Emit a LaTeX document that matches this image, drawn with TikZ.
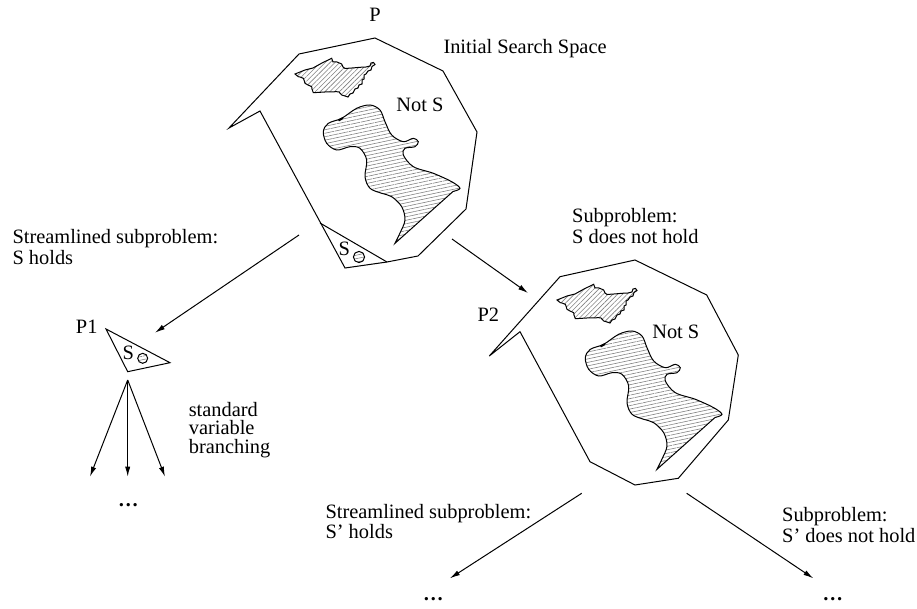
\documentclass[tikz,border=0pt]{standalone}
\usepackage{fontspec}
\setmainfont{Liberation Serif}
\usepackage{tikz}
\usetikzlibrary{arrows.meta, patterns.meta}
\NewDocumentCommand{\nogood}{}{%
  \draw[hatch=45] (295,74) -- (300,72) -- (305,70) -- (313,68) -- (322,63) -- (331.7,58.3)
    -- (333,62) -- (337,62) -- (341.7,64) -- (343,67) -- (345,68.5) -- (352,68) -- (360,67.3)
    -- (366,67) -- (370,66) -- (371,63) -- (373.5,62.5) -- (375,64.5) -- (372,66.5) -- (371,70)
    -- (368,71) -- (366,74) -- (364,75) -- (364,79) -- (362,80) -- (362,84) -- (359,85)
    -- (358,88) -- (355,89) -- (353,93) -- (350,94) -- (348,97) -- (345,96) -- (341.7,95)
    -- (339,92) -- (336.7,91.7) -- (325,92) -- (313.3,92.7) -- (312,89) -- (311.7,86.7)
    -- (308,85) -- (305,83.3) -- (304,80) -- (303.3,78.3) -- (300,77) -- (298.3,76.7) -- cycle;
  \draw[hatch=12] plot[smooth, tension=0.55] coordinates {(395,243.3) (400,233) (405,220)
    (401.7,206.7) (391.7,196.7) (381.7,193.3) (370,188.3) (365,176.7) (366.7,160) (360,148.3)
    (350,146.7) (336.7,150) (326.7,143.3) (323.3,131.7) (328.3,123.3) (341.7,118.3)
    (356.7,108.3) (370,105) (380,110) (385,121.7) (391.7,135) (403.3,141.7) (413.3,138.3)
    (418.3,141.7) (415,146.7) (405,148.3) (403.3,155) (413.3,166.7) (433.3,173.3)
    (451.7,181.7) (460,188.3) (453,191.5)} -- cycle;
  \draw[line width=1pt] (338.5,120.5) -- (343,118);
}

\begin{document}
\begin{tikzpicture}[x=0.5pt, y=-0.5pt, line width=0.5pt,
    >={Latex[length=5pt, width=2.6pt]},
    every node/.style={font=\fontsize{10.2}{10.4}\selectfont, inner sep=0pt},
    label/.style={anchor=west, align=left},
    more/.style={font=\fontsize{10.2}{10.4}\selectfont\bfseries},
    hatch/.style={pattern={Lines[angle=#1, distance=1.7pt, line width=0.3pt]},
                  pattern color=gray},
    ball/.style={draw, circle, minimum size=5.6pt, hatch=12}]
    \useasboundingbox (0,0) rectangle (917,609);

    % P
    \draw (375,38) -- (443,71) -- (477,132) -- (466,209) -- (418,256) -- (387,262)
      -- (345,268) -- (260,111) -- (229,128) -- (299,54) -- cycle;
    \draw (320,223) -- (387,262);
    \nogood
    \node (p) at (375,15) {P};
    \node[label] (init) at (443,48.3) {Initial Search Space};
    \node (notS) at (420,105) {Not S};
    \node (pS) at (344.3,249.3) {S};
    \node[ball] (pball) at (359,257) {};

    % P2
    \draw (635,260) -- (706.7,295) -- (738.3,355) -- (728.3,420) -- (678.3,478.3)
      -- (635,485) -- (590,461.7) -- (520,331.7) -- (489.3,356) -- (560,276.7) -- cycle;
    \begin{scope}[shift={(262,226)}]
      \nogood
    \end{scope}
    \node (p2) at (488.3,315) {P2};
    \node (notS2) at (675.8,331.7) {Not S};

    % P1
    \draw (106,329) -- (170,362.7) -- (127.7,371.7) -- cycle;
    \node (p1) at (86.7,326.7) {P1};
    \node (p1S) at (128.3,353.3) {S};
    \node[ball, minimum size=5pt] (p1ball) at (142.7,358.3) {};

    \node[label] (holds) at (12,246.7) {Streamlined subproblem:\\S holds};
    \node[label] (notholds) at (571.7,225.8) {Subproblem:\\S does not hold};
    \node[label, font=\fontsize{10.2}{9.2}\selectfont] (branch) at (188.3,430)
      {standard\\variable\\branching};
    \node[label] (holds2) at (325,521.5) {Streamlined subproblem:\\S' holds};
    \node[label] (notholds2) at (781.7,525) {Subproblem:\\S' does not hold};

    \node[more] (dots1) at (128.3,505) {\dots};
    \node[more] (dots2) at (433.3,599) {\dots};
    \node[more] (dots3) at (832.7,599) {\dots};

    \coordinate (pl) at (299,235);
    \coordinate (p1in) at (155,332.7);
    \coordinate (pr) at (452,239);
    \coordinate (p2in) at (528,293);
    \coordinate (p1out) at (127.7,380);
    \coordinate (b1) at (90,476.7);
    \coordinate (b2) at (127.7,476.7);
    \coordinate (b3) at (165,476.7);
    \coordinate (p2l) at (581.7,493.3);
    \coordinate (p2r) at (686.7,493.3);
    \coordinate (l2in) at (450,578.3);
    \coordinate (r2in) at (813.3,578.3);

    \draw[->] (pl) -- (p1in);
    \draw[->] (pr) -- (p2in);
    \draw[->] (p1out) -- (b1);
    \draw[->] (p1out) -- (b2);
    \draw[->] (p1out) -- (b3);
    \draw[->] (p2l) -- (l2in);
    \draw[->] (p2r) -- (r2in);
\end{tikzpicture}
\end{document}
